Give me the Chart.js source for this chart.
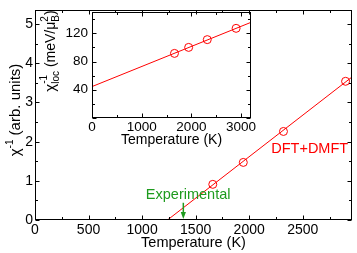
<!DOCTYPE html>
<html>
<head>
<meta charset="utf-8">
<script src="https://cdn.jsdelivr.net/npm/chart.js@4/dist/chart.umd.min.js"></script>
<style>
html, body { margin: 0; padding: 0; background: #fff; }
#wrap { position: relative; width: 357px; height: 253px; }
#mainChart { position: absolute; left: 0; top: 0; }
#insetChart { position: absolute; left: 36px; top: 0; }
</style>
</head>
<body>
<div id="wrap">
  <canvas id="mainChart" width="357" height="253"></canvas>
  <canvas id="insetChart" width="222" height="150"></canvas>
</div>
<script>
// data
const temps = [1660, 1945, 2320, 2900];
const chiInv = [0.91, 1.47, 2.26, 3.54];
const fitT = [1237, 2960];
const fitChi = [0, 3.65];
const chiLoc = [91.5, 100, 111, 127];
const locFitT = [0, 3200];
const locFitChi = [44.5, 135.5];
const expTemp = 1385;

// tick labels
const mainXTicks = [0, 500, 1000, 1500, 2000, 2500];
const mainYTicks = [0, 1, 2, 3, 4, 5];
const insetXTicks = [0, 1000, 2000, 3000];
const insetYTicks = [40, 80, 120];

const FONT = "'Liberation Sans', Arial, sans-serif";
const RED = '#ff0000';
const GREEN = '#1e9b1e';
Chart.defaults.font.family = FONT;
Chart.defaults.color = '#000';

function pts(xs, ys) {
  return xs.map((x, i) => ({ x: x, y: ys[i] }));
}
function fixTicks(list) {
  return s => { s.ticks = list.map(v => ({ value: v })); };
}

// box frame + inward ticks on all four sides
const frameTicks = {
  id: 'frameTicks',
  afterDraw(chart, args, o) {
    const { ctx, chartArea: a } = chart;
    const xs = chart.scales.x, ys = chart.scales.y;
    const L = Math.round(a.left) + 0.5, R = Math.round(a.right) - 0.5;
    const T = Math.round(a.top) + 0.5, B = Math.round(a.bottom) - 0.5;
    ctx.save();
    ctx.strokeStyle = '#000';
    ctx.lineWidth = 1;
    ctx.strokeRect(L, T, R - L, B - T);
    ctx.beginPath();
    for (let v = xs.min; v <= xs.max + 1e-9; v += o.xMinor) {
      const p = Math.round(xs.getPixelForValue(v)) + 0.5;
      const len = Math.abs(v / o.xMajor - Math.round(v / o.xMajor)) < 1e-6 ? o.major : o.minor;
      ctx.moveTo(p, B); ctx.lineTo(p, B - len);
      ctx.moveTo(p, T); ctx.lineTo(p, T + len);
    }
    for (let v = ys.min; v <= ys.max + 1e-9; v += o.yMinor) {
      const p = Math.round(ys.getPixelForValue(v)) + 0.5;
      const len = Math.abs(v / o.yMajor - Math.round(v / o.yMajor)) < 1e-6 ? o.major : o.minor;
      ctx.moveTo(L, p); ctx.lineTo(L + len, p);
      ctx.moveTo(R, p); ctx.lineTo(R - len, p);
    }
    ctx.stroke();
    ctx.restore();
  }
};

// text with sub/superscripts, rotated to read bottom-to-top
function rotatedRich(ctx, pieces, bx, cy) {
  let x = 0, prevStart = 0, prevW = 0;
  const items = [];
  pieces.forEach(p => {
    ctx.font = p.s + 'px ' + FONT;
    const w = ctx.measureText(p.t).width;
    let start;
    if (p.stack) { start = prevStart; x = Math.max(prevStart + prevW, start + w); }
    else { start = x; x = start + w; }
    items.push({ t: p.t, s: p.s, dy: p.dy, x: start });
    prevStart = start; prevW = w;
  });
  ctx.save();
  ctx.translate(bx, cy);
  ctx.rotate(-Math.PI / 2);
  ctx.fillStyle = '#000';
  ctx.textBaseline = 'alphabetic';
  ctx.textAlign = 'left';
  items.forEach(it => {
    ctx.font = it.s + 'px ' + FONT;
    ctx.fillText(it.t, it.x - x / 2, it.dy);
  });
  ctx.restore();
}

const mainExtras = {
  id: 'mainExtras',
  afterDraw(chart) {
    const { ctx } = chart;
    const xs = chart.scales.x, ys = chart.scales.y;
    rotatedRich(ctx, [
      { t: 'χ', s: 15, dy: 0 },
      { t: '-1', s: 10, dy: -7 },
      { t: ' (arb. units)', s: 15, dy: 0 }
    ], 20, 110);

    ctx.save();
    ctx.textAlign = 'center';
    ctx.textBaseline = 'alphabetic';
    ctx.font = '14.5px ' + FONT;
    ctx.fillStyle = RED;
    ctx.fillText('DFT+DMFT', xs.getPixelForValue(2565), ys.getPixelForValue(1.72));
    ctx.fillStyle = GREEN;
    ctx.fillText('Experimental', xs.getPixelForValue(1430), ys.getPixelForValue(0.54));

    // arrow at the experimental temperature
    const ax = xs.getPixelForValue(expTemp);
    const tip = ys.getPixelForValue(0) - 1;
    ctx.strokeStyle = GREEN;
    ctx.lineWidth = 1.5;
    ctx.beginPath();
    ctx.moveTo(ax, ys.getPixelForValue(0.44));
    ctx.lineTo(ax, tip - 6);
    ctx.stroke();
    ctx.beginPath();
    ctx.moveTo(ax, tip);
    ctx.lineTo(ax - 2.6, tip - 7);
    ctx.lineTo(ax + 2.6, tip - 7);
    ctx.closePath();
    ctx.fill();
    ctx.restore();
  }
};

const insetExtras = {
  id: 'insetExtras',
  afterDraw(chart) {
    rotatedRich(chart.ctx, [
      { t: 'χ', s: 15, dy: 0 },
      { t: 'loc', s: 10, dy: 4 },
      { t: '-1', s: 10, dy: -8, stack: true },
      { t: ' (meV/μ', s: 14, dy: 0 },
      { t: 'B', s: 10, dy: 4 },
      { t: '2', s: 10, dy: -7, stack: true },
      { t: ')', s: 14, dy: 0 }
    ], 19, 51);
  }
};

new Chart(document.getElementById('mainChart'), {
  type: 'scatter',
  data: {
    datasets: [{
      data: pts(fitT, fitChi),
      showLine: true,
      borderColor: RED,
      borderWidth: 1,
      pointRadius: 0
    }, {
      data: pts(temps, chiInv),
      showLine: false,
      pointRadius: 4,
      pointBorderWidth: 1,
      borderColor: RED,
      backgroundColor: 'rgba(0,0,0,0)'
    }]
  },
  options: {
    responsive: false,
    animation: false,
    layout: { padding: { top: 1, right: 1, left: 0, bottom: 0 } },
    plugins: {
      legend: { display: false },
      tooltip: { enabled: false },
      frameTicks: { xMajor: 500, xMinor: 250, yMajor: 1, yMinor: 0.5, major: 4, minor: 2.5 }
    },
    scales: {
      x: {
        type: 'linear', min: 0, max: 2960,
        grid: { display: false, drawTicks: false },
        border: { display: false },
        afterBuildTicks: fixTicks(mainXTicks),
        ticks: { autoSkip: false, maxRotation: 0, padding: 2, font: { size: 14 }, callback: v => String(v) },
        title: { display: true, text: 'Temperature (K)', font: { size: 14.5 }, padding: { top: 0, bottom: 1 } },
        afterFit(s) { s.height = 33; }
      },
      y: {
        type: 'linear', min: 0, max: 5.35,
        grid: { display: false, drawTicks: false },
        border: { display: false },
        afterBuildTicks: fixTicks(mainYTicks),
        ticks: { padding: 2, font: { size: 14 }, callback: v => String(v) },
        afterFit(s) { s.width = 35; }
      }
    }
  },
  plugins: [frameTicks, mainExtras]
});

new Chart(document.getElementById('insetChart'), {
  type: 'scatter',
  data: {
    datasets: [{
      data: pts(locFitT, locFitChi),
      showLine: true,
      borderColor: RED,
      borderWidth: 1,
      pointRadius: 0
    }, {
      data: pts(temps, chiLoc),
      showLine: false,
      pointRadius: 4,
      pointBorderWidth: 1,
      borderColor: RED,
      backgroundColor: 'rgba(0,0,0,0)'
    }]
  },
  options: {
    responsive: false,
    animation: false,
    layout: { padding: { top: 1, right: 7, left: 0, bottom: 0 } },
    plugins: {
      legend: { display: false },
      tooltip: { enabled: false },
      frameTicks: { xMajor: 1000, xMinor: 500, yMajor: 40, yMinor: 20, major: 4, minor: 2.5 }
    },
    scales: {
      x: {
        type: 'linear', min: 0, max: 3200,
        grid: { display: false, drawTicks: false },
        border: { display: false },
        afterBuildTicks: fixTicks(insetXTicks),
        ticks: { autoSkip: false, maxRotation: 0, padding: 1, font: { size: 13.5 }, callback: v => String(v) },
        title: { display: true, text: 'Temperature (K)', font: { size: 14 }, padding: { top: 0, bottom: 1.5 } },
        afterFit(s) { s.height = 32; }
      },
      y: {
        type: 'linear', min: 0, max: 150,
        grid: { display: false, drawTicks: false },
        border: { display: false },
        afterBuildTicks: fixTicks(insetYTicks),
        ticks: { padding: 4, font: { size: 13.5 }, callback: v => String(v) },
        afterFit(s) { s.width = 56; }
      }
    }
  },
  plugins: [frameTicks, insetExtras]
});
</script>
</body>
</html>
